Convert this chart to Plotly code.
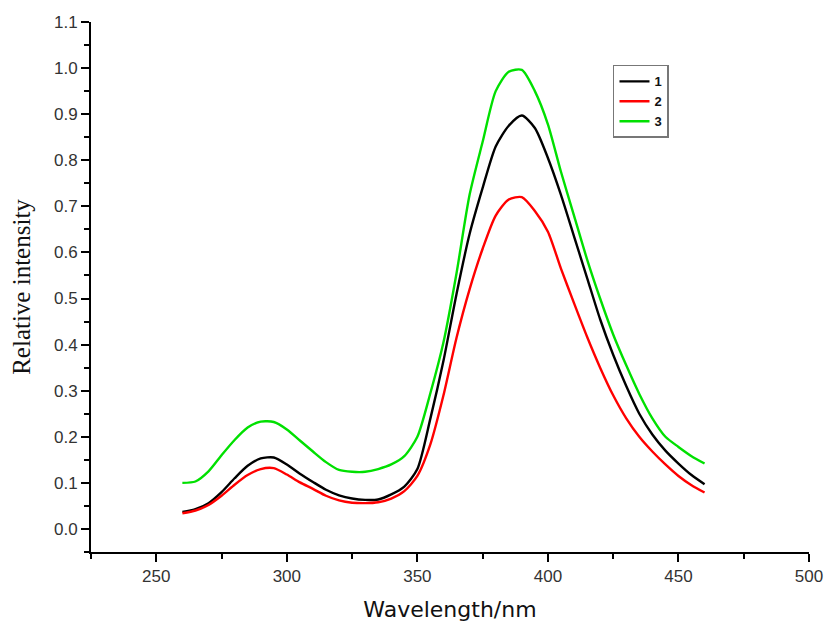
import plotly.graph_objects as go

wavelength = list(range(260, 461, 5))

series1 = [0.037, 0.043, 0.056, 0.080, 0.110, 0.137, 0.153, 0.155, 0.140, 0.120,
           0.102, 0.085, 0.073, 0.066, 0.063, 0.064, 0.075, 0.092, 0.130, 0.240,
           0.365, 0.510, 0.640, 0.740, 0.830, 0.875, 0.897, 0.870, 0.805, 0.725,
           0.635, 0.545, 0.455, 0.378, 0.310, 0.250, 0.205, 0.170, 0.142, 0.117, 0.097]

series2 = [0.034, 0.040, 0.052, 0.072, 0.096, 0.117, 0.130, 0.132, 0.118, 0.101,
           0.087, 0.072, 0.062, 0.057, 0.056, 0.058, 0.066, 0.082, 0.115, 0.184,
           0.290, 0.415, 0.520, 0.608, 0.680, 0.715, 0.720, 0.690, 0.645, 0.565,
           0.490, 0.417, 0.350, 0.290, 0.240, 0.200, 0.168, 0.140, 0.115, 0.095, 0.079]

series3 = [0.100, 0.103, 0.125, 0.160, 0.193, 0.220, 0.233, 0.232, 0.216, 0.192,
           0.168, 0.145, 0.128, 0.124, 0.124, 0.130, 0.140, 0.158, 0.200, 0.295,
           0.405, 0.555, 0.725, 0.840, 0.950, 0.992, 0.996, 0.950, 0.878, 0.775,
           0.680, 0.585, 0.500, 0.422, 0.355, 0.293, 0.240, 0.200, 0.178, 0.158, 0.142]

x_ticks = [250, 300, 350, 400, 450, 500]
x_minor = [225, 275, 325, 375, 425, 475]
y_ticks = [0.0, 0.1, 0.2, 0.3, 0.4, 0.5, 0.6, 0.7, 0.8, 0.9, 1.0, 1.1]
y_minor = [-0.05, 0.05, 0.15, 0.25, 0.35, 0.45, 0.55, 0.65, 0.75, 0.85, 0.95, 1.05]

names = ["1", "2", "3"]
colors = ["#000000", "#ff0000", "#00e000"]

fig = go.Figure()
for name, ys, c in zip(names, [series1, series2, series3], colors):
    fig.add_trace(go.Scatter(x=wavelength, y=ys, mode="lines", name=name,
                             line=dict(color=c, width=2.4, shape="spline", smoothing=0.7)))

tickfont = dict(family="Liberation Sans, Arial, sans-serif", size=17, color="#333")

fig.update_layout(
    width=826, height=622,
    margin=dict(l=91, r=17, t=22, b=70),
    plot_bgcolor="white", paper_bgcolor="white",
    showlegend=True,
    legend=dict(x=0.727, y=0.919, xanchor="left", yanchor="top",
                bordercolor="#777", borderwidth=1.5, bgcolor="white",
                font=dict(family="Liberation Sans, Arial, sans-serif", size=13, color="#111",
                          weight="bold"),
                tracegroupgap=0, itemwidth=30),
    xaxis=dict(range=[225, 500], tickvals=x_ticks,
               showgrid=False, zeroline=False, automargin=False,
               showline=True, linecolor="black", linewidth=2,
               ticks="outside", ticklen=8, tickwidth=2, tickcolor="black",
               minor=dict(tickvals=x_minor, ticks="outside", ticklen=5, tickwidth=2, tickcolor="black"),
               tickfont=tickfont,
               title=dict(text="Wavelength/nm", standoff=16,
                          font=dict(family="DejaVu Sans, Verdana, sans-serif", size=22, color="#111"))),
    yaxis=dict(range=[-0.05, 1.1], tickvals=y_ticks,
               tickformat=".1f",
               showgrid=False, zeroline=False, automargin=False,
               showline=True, linecolor="black", linewidth=2,
               ticks="outside", ticklen=8, tickwidth=2, tickcolor="black",
               minor=dict(tickvals=y_minor, ticks="outside", ticklen=5, tickwidth=2, tickcolor="black"),
               tickfont=tickfont,
               title=dict(text="Relative intensity", standoff=16,
                          font=dict(family="Liberation Serif, Times New Roman, serif", size=25, color="#111"))),
)

fig.write_html(
    "out.html",
    config={"displayModeBar": False},
    post_script="document.body.style.margin='0';document.documentElement.style.overflow='hidden';",
)
